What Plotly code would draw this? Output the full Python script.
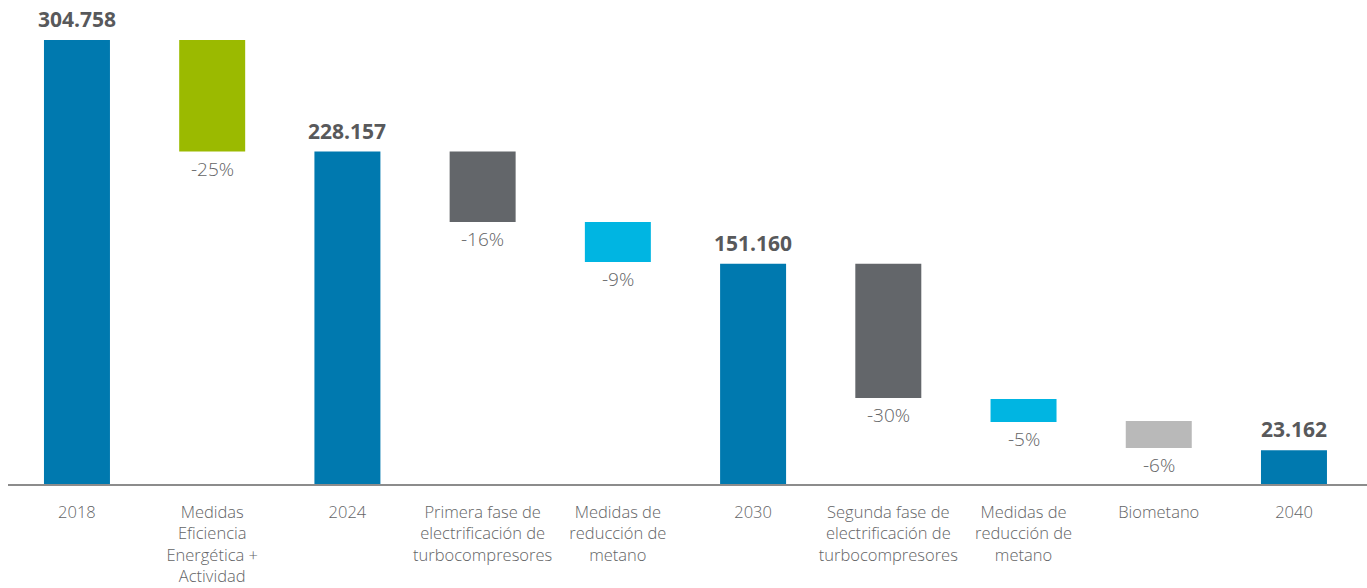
import plotly.graph_objects as go

categories = ["2018", "Medidas<br>Eficiencia<br>Energética +<br>Actividad", "2024",
              "Primera fase de<br>electrificación de<br>turbocompresores",
              "Medidas de<br>reducción de<br>metano", "2030",
              "Segunda fase de<br>electrificación de<br>turbocompresores",
              "Medidas de<br>reducción de<br>metano", "Biometano", "2040"]
bar_top = [304.758, 304.758, 228.157, 228.157, 179.8, 151.160, 151.160, 58.3, 43.2, 23.162]
bar_bottom = [0, 228.157, 0, 179.8, 152.4, 0, 59.0, 42.6, 24.7, 0]
labels = ["304.758", "-25%", "228.157", "-16%", "-9%", "151.160", "-30%", "-5%", "-6%", "23.162"]
is_total = [True, False, True, False, False, True, False, False, False, True]
colors = ["#0079AF", "#9BBA00", "#0079AF", "#63666A", "#00B5E2", "#0079AF",
          "#63666A", "#00B5E2", "#B9B9B9", "#0079AF"]

xs = list(range(len(categories)))
fig = go.Figure()
fig.add_trace(go.Bar(
    x=xs,
    y=[t - b for t, b in zip(bar_top, bar_bottom)],
    base=bar_bottom,
    marker=dict(color=colors, line=dict(width=0)),
    width=0.488,
    hoverinfo="skip",
))

for i, (t, b, lab, tot) in enumerate(zip(bar_top, bar_bottom, labels, is_total)):
    if tot:
        fig.add_annotation(x=i, y=t, text=lab, showarrow=False, yanchor="middle", yshift=21,
                           font=dict(family="Open Sans", size=21, color="#58595B", weight="bold"))
    else:
        fig.add_annotation(x=i, y=b, text=lab, showarrow=False, yanchor="middle", yshift=-17,
                           font=dict(family="Open Sans", size=19, color="#636466", weight=300))

fig.update_layout(
    width=1367, height=588,
    margin=dict(l=8, r=0, t=10, b=104),
    plot_bgcolor="white", paper_bgcolor="white",
    showlegend=False,
    xaxis=dict(range=[-0.510, 9.540], tickvals=xs, ticktext=categories,
               showline=True, linecolor="#8C8C8C", linewidth=2, showgrid=False,
               zeroline=False, ticks="", ticklabelstandoff=12,
               tickfont=dict(family="Open Sans", size=16.5, color="#636466", weight=300)),
    yaxis=dict(range=[0, 325.35], visible=False, showgrid=False, zeroline=False),
)

fig.write_html("out.html", config={"displayModeBar": False},
               post_script="document.body.style.margin='0';")
